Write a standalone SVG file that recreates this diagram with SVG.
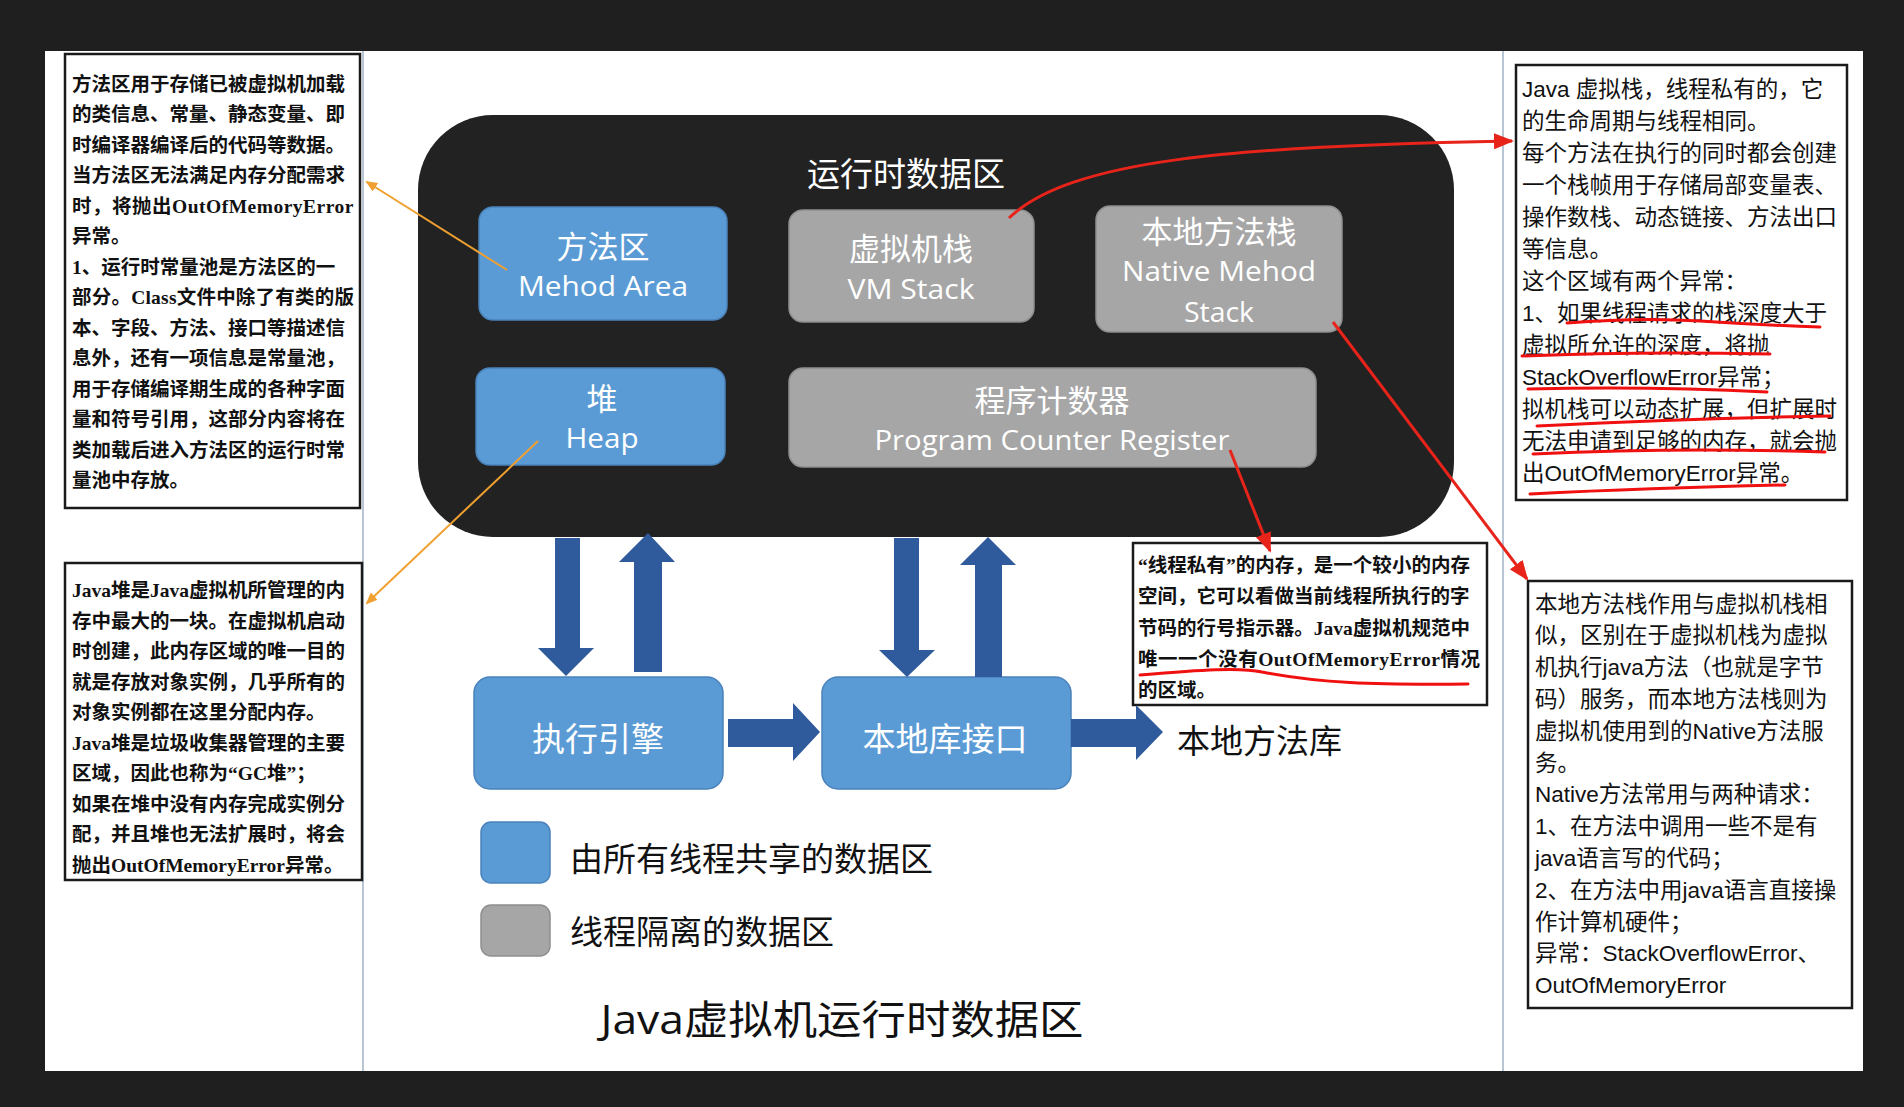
<svg xmlns="http://www.w3.org/2000/svg" width="1904" height="1107" viewBox="0 0 1904 1107">
<defs>
<style>
.bg{fill:#1f1f1f}
.panel{fill:#ffffff}
.sep{stroke:#9fb2c6;stroke-width:1.5;fill:none}
.note{fill:#ffffff;stroke:#1a1a1a;stroke-width:2.5}
.serif{font-family:"Liberation Serif","Noto Sans CJK SC",serif;font-weight:bold;font-size:19.5px;fill:#111}
.sans{font-family:"Liberation Sans","Noto Sans CJK SC",sans-serif;font-size:22.5px;fill:#111}
.dark{fill:#222222}
.blue{fill:#5b9bd5;stroke:#4a82bb;stroke-width:1.5}
.gray{fill:#a6a6a6;stroke:#8f8f8f;stroke-width:1.5}
.lbl{font-family:"Open Sans","Noto Sans CJK SC",sans-serif;fill:#ffffff;text-anchor:middle}
.zh{font-size:31px}
.en{font-size:28px}
.big{font-family:"Open Sans","Noto Sans CJK SC",sans-serif;fill:#111;font-size:33px}
.arrow{fill:#2f5a9b}
.orange{stroke:#f0a030;stroke-width:2;fill:none}
.red{stroke:#e8231a;stroke-width:3;fill:none}
.ul{stroke:#f01010;stroke-width:3;fill:none;stroke-linecap:round}
</style>
<marker id="mo" markerWidth="12" markerHeight="10" refX="10" refY="5" orient="auto" markerUnits="userSpaceOnUse">
<path d="M0,0 L12,5 L0,10 Z" fill="#f0a030"/>
</marker>
<marker id="mr" markerWidth="20" markerHeight="16" refX="18" refY="8" orient="auto" markerUnits="userSpaceOnUse">
<path d="M0,0 L20,8 L0,16 Z" fill="#e8231a"/>
</marker>
</defs>

<rect class="bg" x="0" y="0" width="1904" height="1107"/>
<rect class="panel" x="45" y="51" width="1818" height="1020"/>
<line class="sep" x1="363" y1="51" x2="363" y2="1071"/>
<line class="sep" x1="1503" y1="51" x2="1503" y2="1071"/>

<g id="runtime-area">
<rect class="dark" x="418" y="115" width="1036" height="422" rx="75" ry="75"/>
<text class="lbl" x="906" y="186" font-size="33">运行时数据区</text>
</g>

<g id="method-area">
<rect class="blue" x="479" y="207" width="248" height="113" rx="14"/>
<text class="lbl zh" x="603" y="258">方法区</text>
<text class="lbl en" x="603" y="296" textLength="170" lengthAdjust="spacingAndGlyphs">Mehod Area</text>
</g>

<g id="vm-stack">
<rect class="gray" x="789" y="210" width="245" height="112" rx="14"/>
<text class="lbl zh" x="911" y="260">虚拟机栈</text>
<text class="lbl en" x="911" y="299" textLength="127" lengthAdjust="spacingAndGlyphs">VM Stack</text>
</g>

<g id="native-method-stack">
<rect class="gray" x="1096" y="206" width="246" height="126" rx="14"/>
<text class="lbl zh" x="1219" y="243">本地方法栈</text>
<text class="lbl en" x="1219" y="281" textLength="194" lengthAdjust="spacingAndGlyphs">Native Mehod</text>
<text class="lbl en" x="1219" y="322" textLength="70" lengthAdjust="spacingAndGlyphs">Stack</text>
</g>

<g id="heap">
<rect class="blue" x="476" y="368" width="249" height="97" rx="14"/>
<text class="lbl zh" x="602" y="410">堆</text>
<text class="lbl en" x="602" y="448" textLength="73" lengthAdjust="spacingAndGlyphs">Heap</text>
</g>

<g id="program-counter">
<rect class="gray" x="789" y="368" width="527" height="99" rx="14"/>
<text class="lbl zh" x="1052" y="412">程序计数器</text>
<text class="lbl en" x="1052" y="450" textLength="355" lengthAdjust="spacingAndGlyphs">Program Counter Register</text>
</g>

<g id="execution-engine">
<rect class="blue" x="474" y="677" width="249" height="112" rx="16"/>
<text class="lbl" font-size="33" x="598" y="751">执行引擎</text>
</g>

<g id="native-interface">
<rect class="blue" x="822" y="677" width="249" height="112" rx="16"/>
<text class="lbl" font-size="33" x="945" y="751">本地库接口</text>
</g>

<g id="native-library">
<text class="big" x="1177" y="753">本地方法库</text>
</g>

<g id="legend">
<rect class="blue" x="481" y="822" width="69" height="61" rx="10"/>
<text class="big" x="570" y="871">由所有线程共享的数据区</text>
<rect class="gray" x="481" y="905" width="69" height="51" rx="10"/>
<text class="big" x="570" y="944">线程隔离的数据区</text>
</g>

<g id="title">
<text x="842" y="1034" text-anchor="middle" font-family="'Open Sans','Noto Sans CJK SC',sans-serif" font-size="40" fill="#111" textLength="483" lengthAdjust="spacingAndGlyphs">Java虚拟机运行时数据区</text>
</g>

<g id="note-method-area">
<rect class="note" x="65" y="54" width="295" height="454"/>
<text class="serif" x="72">
<tspan x="72" y="90.5">方法区用于存储已被虚拟机加载</tspan>
<tspan x="72" y="121">的类信息、常量、静态变量、即</tspan>
<tspan x="72" y="151.5">时编译器编译后的代码等数据。</tspan>
<tspan x="72" y="182">当方法区无法满足内存分配需求</tspan>
<tspan x="72" y="212.5" textLength="281">时，将抛出OutOfMemoryError</tspan>
<tspan x="72" y="243">异常。</tspan>
<tspan x="72" y="273.5">1、运行时常量池是方法区的一</tspan>
<tspan x="72" y="304" textLength="282">部分。Class文件中除了有类的版</tspan>
<tspan x="72" y="334.5">本、字段、方法、接口等描述信</tspan>
<tspan x="72" y="365">息外，还有一项信息是常量池，</tspan>
<tspan x="72" y="395.5">用于存储编译期生成的各种字面</tspan>
<tspan x="72" y="426">量和符号引用，这部分内容将在</tspan>
<tspan x="72" y="456.5">类加载后进入方法区的运行时常</tspan>
<tspan x="72" y="487">量池中存放。</tspan>
</text>
</g>

<g id="note-heap">
<rect class="note" x="65" y="563" width="297" height="317"/>
<text class="serif">
<tspan x="72" y="597">Java堆是Java虚拟机所管理的内</tspan>
<tspan x="72" y="627.5">存中最大的一块。在虚拟机启动</tspan>
<tspan x="72" y="658">时创建，此内存区域的唯一目的</tspan>
<tspan x="72" y="688.5">就是存放对象实例，几乎所有的</tspan>
<tspan x="72" y="719">对象实例都在这里分配内存。</tspan>
<tspan x="72" y="749.5">Java堆是垃圾收集器管理的主要</tspan>
<tspan x="72" y="780">区域，因此也称为“GC堆”；</tspan>
<tspan x="72" y="810.5">如果在堆中没有内存完成实例分</tspan>
<tspan x="72" y="841">配，并且堆也无法扩展时，将会</tspan>
<tspan x="72" y="871.5">抛出OutOfMemoryError异常。</tspan>
</text>
</g>

<g id="note-pc">
<rect class="note" x="1133" y="543" width="354" height="162"/>
<text class="serif">
<tspan x="1138" y="572" textLength="332">“线程私有”的内存，是一个较小的内存</tspan>
<tspan x="1138" y="603.3">空间，它可以看做当前线程所执行的字</tspan>
<tspan x="1138" y="634.6" textLength="332">节码的行号指示器。Java虚拟机规范中</tspan>
<tspan x="1138" y="665.9" textLength="342">唯一一个没有OutOfMemoryError情况</tspan>
<tspan x="1138" y="697.2">的区域。</tspan>
</text>
<path class="ul" d="M1140,675 C1200,670 1240,667 1262,672 C1320,683 1370,685 1468,684"/>
</g>

<g id="note-vm-stack">
<rect class="note" x="1516" y="65" width="331" height="435"/>
<text class="sans">
<tspan x="1522" y="97">Java 虚拟栈，线程私有的，它</tspan>
<tspan x="1522" y="129">的生命周期与线程相同。</tspan>
<tspan x="1522" y="161">每个方法在执行的同时都会创建</tspan>
<tspan x="1522" y="193">一个栈帧用于存储局部变量表、</tspan>
<tspan x="1522" y="225">操作数栈、动态链接、方法出口</tspan>
<tspan x="1522" y="257">等信息。</tspan>
<tspan x="1522" y="289">这个区域有两个异常：</tspan>
<tspan x="1522" y="321">1、如果线程请求的栈深度大于</tspan>
<tspan x="1522" y="353">虚拟所允许的深度，将抛</tspan>
<tspan x="1522" y="385">StackOverflowError异常；</tspan>
<tspan x="1522" y="417">拟机栈可以动态扩展，但扩展时</tspan>
<tspan x="1522" y="449">无法申请到足够的内存，就会抛</tspan>
<tspan x="1522" y="481">出OutOfMemoryError异常。</tspan>
</text>
<path class="ul" d="M1567,323 Q1640,317 1700,321 T1820,327"/>
<path class="ul" d="M1522,356 Q1640,351 1770,354"/>
<path class="ul" d="M1528,389 Q1650,386 1767,392"/>
<path class="ul" d="M1537,426 Q1700,418 1830,416"/>
<path class="ul" d="M1533,454 Q1680,447 1825,452"/>
<path class="ul" d="M1530,494 Q1650,488 1785,485"/>
</g>

<g id="note-native-stack">
<rect class="note" x="1528" y="581" width="324" height="427"/>
<text class="sans">
<tspan x="1535" y="611.5">本地方法栈作用与虚拟机栈相</tspan>
<tspan x="1535" y="643.3">似，区别在于虚拟机栈为虚拟</tspan>
<tspan x="1535" y="675.1">机执行java方法（也就是字节</tspan>
<tspan x="1535" y="706.9">码）服务，而本地方法栈则为</tspan>
<tspan x="1535" y="738.7">虚拟机使用到的Native方法服</tspan>
<tspan x="1535" y="770.5">务。</tspan>
<tspan x="1535" y="802.3">Native方法常用与两种请求：</tspan>
<tspan x="1535" y="834.1">1、在方法中调用一些不是有</tspan>
<tspan x="1535" y="865.9">java语言写的代码；</tspan>
<tspan x="1535" y="897.7">2、在方法中用java语言直接操</tspan>
<tspan x="1535" y="929.5">作计算机硬件；</tspan>
<tspan x="1535" y="961.3">异常：StackOverflowError、</tspan>
<tspan x="1535" y="993.1">OutOfMemoryError</tspan>
</text>
</g>

<g id="connectors">
<polygon class="arrow" points="555,538 580,538 580,648 594,648 566,676 538,648 555,648"/>
<polygon class="arrow" points="634,672 662,672 662,562 675,562 648,533 619,562 634,562"/>
<polygon class="arrow" points="894,538 919,538 919,650 935,650 907,677 879,650 894,650"/>
<polygon class="arrow" points="975,677 1002,677 1002,565 1016,565 988,537 960,565 975,565"/>
<polygon class="arrow" points="728,719 793,719 793,703 820,732 793,761 793,747 728,747"/>
<polygon class="arrow" points="1071,719 1136,719 1136,705 1163,732 1136,760 1136,747 1071,747"/>
<line class="orange" x1="507" y1="270" x2="367" y2="182" marker-end="url(#mo)"/>
<line class="orange" x1="538" y1="441" x2="367" y2="603" marker-end="url(#mo)"/>
<path class="red" d="M1009,218 C1070,160 1230,146 1512,141" marker-end="url(#mr)"/>
<line class="red" x1="1333" y1="322" x2="1527" y2="579" marker-end="url(#mr)"/>
<line class="red" x1="1230" y1="450" x2="1270" y2="551" marker-end="url(#mr)"/>
</g>
</svg>
